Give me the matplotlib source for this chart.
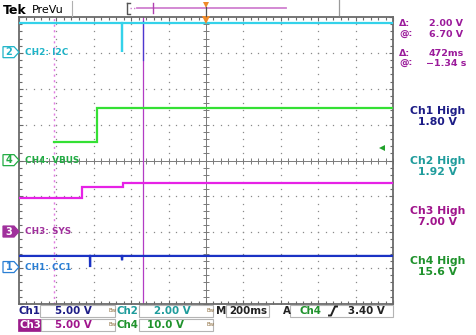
import numpy as np
import matplotlib
matplotlib.use("Agg")
import matplotlib.pyplot as plt
from matplotlib.patches import Polygon, Rectangle
from matplotlib.ticker import MultipleLocator

# ---------------- data ----------------
time_per_div = 0.2          # s/div (M 200ms)
n_hdiv, n_vdiv = 10, 8

ch_labels = ["CH1: CC1", "CH2: I2C", "CH3: SYS", "CH4: VBUS"]
ch_numbers = ["1", "2", "3", "4"]
ch_volts_per_div = [5.0, 2.0, 5.0, 10.0]
ch_ground_div = [-2.97, 3.02, -1.98, 0.01]

ch1_t = [-1.0, -0.621, -0.620, -0.619, -0.451, -0.449, -0.447, 1.0]
ch1_v = [1.55, 1.55, 0.0, 1.55, 1.55, 0.95, 1.55, 1.55]

ch2_t = [-1.0, -0.450, -0.450, -0.448, -0.448, 1.0]
ch2_v = [1.64, 1.64, 0.0, 0.0, 1.64, 1.64]

ch3_t = [-1.0, -0.665, -0.665, -0.444, -0.444, 1.0]
ch3_v = [4.7, 4.7, 6.2, 6.2, 6.7, 6.7]

ch4_t = [-0.811, -0.583, -0.583, 1.0]
ch4_v = [5.0, 5.0, 14.6, 14.6]

cursor_t = [-0.811, -0.339]
trigger_level = 3.40        # V on CH4

cursor_labels = ["Δ:", "@:", "Δ:", "@:"]
cursor_values = ["2.00 V", "6.70 V", "472ms", "−1.34 s"]
meas_names = ["Ch1 High", "Ch2 High", "Ch3 High", "Ch4 High"]
meas_values = ["1.80 V", "1.92 V", "7.00 V", "15.6 V"]

# ---------------- styles ----------------
trace_colors = ["#1a32c4", "#34d2ea", "#e622e6", "#34e034"]
label_colors = ["#2a7fd4", "#1fb4c8", "#a0309c", "#22ac44"]
text_colors = ["#1c1c86", "#1f9c9c", "#a0148c", "#1f922c"]
cursor_col = "#9b1b9b"
W, H = 477, 335
L, R, T, B = 19, 393, 17, 304

plt.rcParams['font.family'] = ['DejaVu Sans']
fig = plt.figure(figsize=(W / 100, H / 100), dpi=100)
fig.patch.set_facecolor("white")

ax = fig.add_axes([L / W, (H - B) / H, (R - L) / W, (B - T) / H])
ax.set_xlim(-n_hdiv / 2 * time_per_div, n_hdiv / 2 * time_per_div)
ax.set_ylim(-n_vdiv / 2, n_vdiv / 2)
for s in ax.spines.values():
    s.set_color("#6a6a6a")
    s.set_linewidth(1.3)
ax.xaxis.set_major_locator(MultipleLocator(time_per_div))
ax.xaxis.set_minor_locator(MultipleLocator(time_per_div / 5))
ax.yaxis.set_major_locator(MultipleLocator(1))
ax.yaxis.set_minor_locator(MultipleLocator(0.2))
ax.tick_params(which="both", direction="in", top=True, right=True,
               labelbottom=False, labelleft=False, color="#6a6a6a", width=0.8)
ax.tick_params(which="major", length=3)
ax.tick_params(which="minor", length=2.2)

# dotted graticule
xmaj = np.arange(-n_hdiv / 2, n_hdiv / 2 + 1) * time_per_div
ymaj = np.arange(-n_vdiv / 2, n_vdiv / 2 + 1)
xmin = np.arange(-n_hdiv * 5 / 2, n_hdiv * 5 / 2 + 1) * time_per_div / 5
ymin = np.arange(-n_vdiv * 5 / 2, n_vdiv * 5 / 2 + 1) / 5
gx, gy = [], []
for xv in xmaj[1:-1]:
    gx += [xv] * len(ymin); gy += list(ymin)
for yv in ymaj[1:-1]:
    gx += list(xmin); gy += [yv] * len(xmin)
ax.plot(gx, gy, ls="none", marker="s", ms=0.9, mew=0, color="#8a8a8a", zorder=1)
# center crosshair
ax.axhline(0, color="#7a7a7a", lw=0.7, zorder=1)
ax.axvline(0, color="#7a7a7a", lw=0.7, zorder=1)
ax.plot(xmin, np.zeros_like(xmin), ls="none", marker="|", ms=4, mew=0.7, color="#7a7a7a", zorder=1)
ax.plot(np.zeros_like(ymin), ymin, ls="none", marker="_", ms=4, mew=0.7, color="#7a7a7a", zorder=1)

# cursors
ax.axvline(cursor_t[0], color="#e07ae0", lw=1.0, ls=(0, (1.5, 2.5)), zorder=2)
ax.axvline(cursor_t[1], color="#b23cc4", lw=0.9, zorder=2)
ax.plot([cursor_t[1]] * 2, [3.9, 2.8], color="#4a3ad0", lw=0.9, zorder=2)

# traces
traces = [(ch1_t, ch1_v), (ch2_t, ch2_v), (ch3_t, ch3_v), (ch4_t, ch4_v)]
for i in [3, 2, 0, 1]:
    t, v = traces[i]
    y = np.array(v) / ch_volts_per_div[i] + ch_ground_div[i]
    ax.plot(t, y, color=trace_colors[i], lw=1.6, solid_joinstyle="miter", zorder=3)

# trigger level arrow (CH4)
trig_y = trigger_level / ch_volts_per_div[3] + ch_ground_div[3]
ax.plot([0.94], [trig_y], marker="<", ms=4.5, color="#22a22c", mew=0, zorder=4, clip_on=False)
# trigger position marker
ax.plot([0], [3.93], marker="v", ms=6, color="#f08a28", mew=0, zorder=4, clip_on=False)

# ---------------- overlay (text / annotations) ----------------
ov = fig.add_axes([0, 0, 1, 1], zorder=5)
ov.set_xlim(0, W); ov.set_ylim(H, 0); ov.axis("off"); ov.patch.set_alpha(0)

def ypix(div):
    d = ax.transData.transform((0, div))
    return ov.transData.inverted().transform(d)[1]

# header
ov.text(3, 10, "Tek", fontsize=9, fontweight="bold", va="center", ha="left", color="black")
ov.text(32, 10, "PreVu", fontsize=8, va="center", ha="left", color="black")
ov.plot([72, 72], [1, 16], color="#b0b0b0", lw=0.8)
ov.plot([127, 127, 130], [3, 14, 14], color="#555555", lw=1.0)
ov.plot([127, 130], [3, 3], color="#555555", lw=1.0)
ov.plot([130, 137], [8, 8], color="#d080d0", lw=1.0, ls=(0, (1, 1.5)))
ov.plot([137, 286], [8, 8], color="#d080d0", lw=1.3)
ov.plot([153, 153], [3, 13], color="#b040b0", lw=1.0)
ov.plot([339, 339], [0, 15], color="#9a9a9a", lw=0.9)
ov.plot([206], [5], marker="v", ms=5, color="#f08a28", mew=0)
ov.plot([206, 206], [7, 16], color="#555555", lw=0.9)

# channel markers & labels
for i in range(4):
    y = ypix(ch_ground_div[i])
    poly = [(3, y - 5.5), (14, y - 5.5), (19, y), (14, y + 5.5), (3, y + 5.5)]
    filled = (i == 2)
    ov.add_patch(Polygon(poly, closed=True, facecolor=label_colors[i] if filled else "white",
                         edgecolor=label_colors[i], lw=0.9))
    ov.text(9, y + 0.3, ch_numbers[i], fontsize=7, fontweight="bold", ha="center", va="center",
            color="white" if filled else label_colors[i])
    ov.text(25, y, ch_labels[i], fontsize=6.4, fontweight="bold", ha="left", va="center",
            color=label_colors[i])

# cursor readouts
cy = [24, 34.5, 53, 64]
for i in range(4):
    ov.text(399, cy[i], cursor_labels[i], fontsize=6.8, fontweight="bold", ha="left", va="center", color=cursor_col)
    ov.text(429 if i < 3 else 426, cy[i], cursor_values[i], fontsize=6.8, fontweight="bold",
            ha="left", va="center", color=cursor_col)

# measurements
my = [111, 161, 211, 261]
for i in range(4):
    ov.text(437.5, my[i], meas_names[i], fontsize=7.8, fontweight="bold", ha="center", va="center", color=text_colors[i])
    ov.text(437.5, my[i] + 11, meas_values[i], fontsize=7.8, fontweight="bold", ha="center", va="center", color=text_colors[i])

# bottom readout
box_col = "#b4b4b4"
def box(x0, x1, y0, y1):
    ov.add_patch(Rectangle((x0, y0), x1 - x0, y1 - y0, fill=False, edgecolor=box_col, lw=0.8))

r1, r2 = 311, 324.5
fs = 7.4
ov.text(19, r1, "Ch1", fontsize=fs, fontweight="bold", va="center", color=text_colors[0])
box(40, 115, 305, 317)
ov.text(55, r1, "5.00 V", fontsize=fs, fontweight="bold", va="center", color=text_colors[0])
ov.text(109, r1, "Bw", fontsize=4, va="center", color="#8c6c3c")
ov.text(117, r1, "Ch2", fontsize=fs, fontweight="bold", va="center", color=text_colors[1])
box(139, 213, 305, 317)
ov.text(154, r1, "2.00 V", fontsize=fs, fontweight="bold", va="center", color=text_colors[1])
ov.text(207, r1, "Bw", fontsize=4, va="center", color="#8c6c3c")
ov.text(216, r1, "M", fontsize=fs, fontweight="bold", va="center", color="#222222")
box(226, 269, 305, 317)
ov.text(229, r1, "200ms", fontsize=fs, fontweight="bold", va="center", color="#222222")
ov.text(283, r1, "A", fontsize=fs, fontweight="bold", va="center", color="#222222")
box(290, 393, 305, 317)
ov.text(300, r1, "Ch4", fontsize=fs, fontweight="bold", va="center", color=text_colors[3])
ov.plot([329, 331, 335, 337], [315.5, 315.5, 306.5, 306.5], color="#222222", lw=1.4)
ov.text(348, r1, "3.40 V", fontsize=fs, fontweight="bold", va="center", color="#222222")

ov.add_patch(Rectangle((18, 318.5), 23, 12.5, facecolor="#9b1b8b", edgecolor="#9b1b8b", lw=0.5))
ov.text(19.5, r2, "Ch3", fontsize=fs, fontweight="bold", va="center", color="white")
box(41, 115, 318.5, 331)
ov.text(55, r2, "5.00 V", fontsize=fs, fontweight="bold", va="center", color=text_colors[2])
ov.text(109, r2, "Bw", fontsize=4, va="center", color="#8c6c3c")
ov.text(117, r2, "Ch4", fontsize=fs, fontweight="bold", va="center", color=text_colors[3])
box(139, 213, 318.5, 331)
ov.text(147, r2, "10.0 V", fontsize=fs, fontweight="bold", va="center", color=text_colors[3])
ov.text(207, r2, "Bw", fontsize=4, va="center", color="#8c6c3c")

fig.savefig("out.png", dpi=100)
